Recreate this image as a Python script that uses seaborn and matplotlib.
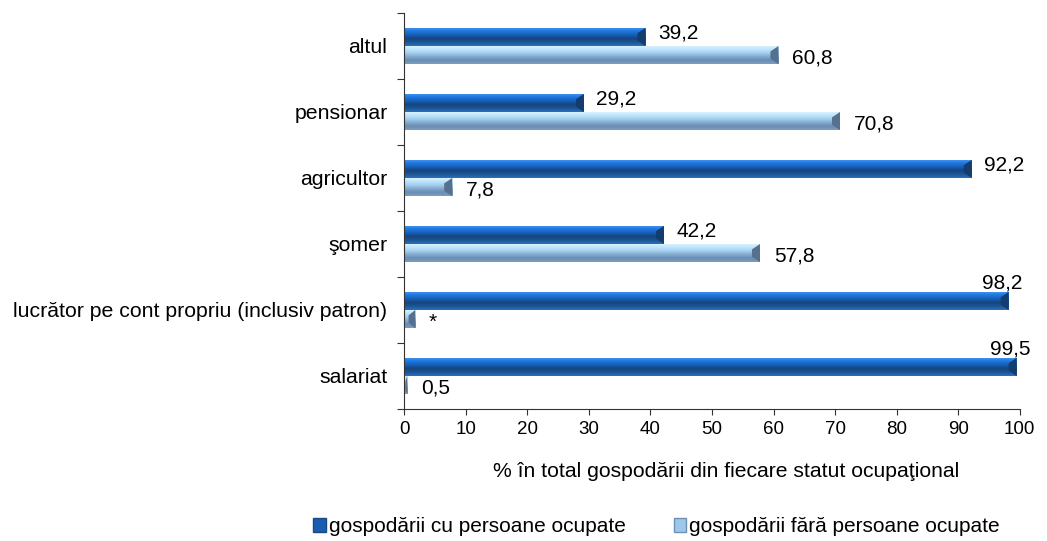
import seaborn as sns
import pandas as pd
import numpy as np
import matplotlib.pyplot as plt
from matplotlib.colors import to_rgb
from matplotlib.patches import Patch

sns.set_theme(style="white")
plt.rcParams["font.family"] = ["Liberation Sans", "DejaVu Sans"]

statut = ["altul", "pensionar", "agricultor", "şomer",
          "lucrător pe cont propriu (inclusiv patron)", "salariat"]
cu_ocupate = [39.2, 29.2, 92.2, 42.2, 98.2, 99.5]
fara_ocupate = [60.8, 70.8, 7.8, 57.8, 1.8, 0.5]
fara_etichete = ["60,8", "70,8", "7,8", "57,8", "*", "0,5"]
serii = ["gospodării cu persoane ocupate", "gospodării fără persoane ocupate"]

df = pd.DataFrame({
    "statut": statut * 2,
    "valoare": cu_ocupate + fara_ocupate,
    "grup": [serii[0]] * len(statut) + [serii[1]] * len(statut),
})

dark = "#1a66c2"
light = "#a9d6f5"
# top -> bottom shading to fake the excel bevel look
grad_dark = ["#4a9af0", "#1f78e0", "#1761bb", "#16457c", "#1c5596", "#2a6fbf"]
grad_light = ["#e2f5ff", "#c2e6fb", "#a5d2f1", "#86abd0", "#6a8db3", "#7c9dc2"]

fig, ax = plt.subplots(figsize=(10.47, 5.41), dpi=100)
fig.subplots_adjust(left=0.386, right=0.974, top=0.976, bottom=0.244)

sns.barplot(data=df, x="valoare", y="statut", hue="grup", orient="h",
            palette=[dark, light], width=0.55, gap=0, ax=ax, legend=False)


def shade(patch, stops, cap):
    x0, y0 = patch.get_x(), patch.get_y()
    w, h = patch.get_width(), patch.get_height()
    cols = np.array([to_rgb(c) for c in stops])
    t = np.linspace(0, 1, 64)
    pos = np.linspace(0, 1, len(stops))
    arr = np.stack([np.interp(t, pos, cols[:, k]) for k in range(3)], axis=1)
    arr = arr[:, None, :]
    im = ax.imshow(arr, extent=(x0, x0 + w, y0 + h, y0), origin="upper",
                   aspect="auto", zorder=patch.get_zorder() + 0.1,
                   interpolation="bilinear")
    im.set_clip_path(patch)
    # darker bevel at the end of the bar
    d = min(1.3, w * 0.6)
    x1 = x0 + w
    ax.fill([x1 - d, x1, x1, x1 - d],
            [y0 + h * 0.3, y0, y0 + h, y0 + h * 0.7],
            color=cap, zorder=patch.get_zorder() + 0.2, lw=0)


for patch in ax.containers[0]:
    shade(patch, grad_dark, "#123d6e")
for patch in ax.containers[1]:
    shade(patch, grad_light, "#56718f")

fs = 15
for patch, v in zip(ax.containers[0], cu_ocupate):
    yc = patch.get_y() + patch.get_height() / 2
    txt = f"{v:.1f}".replace(".", ",")
    if v > 95:
        ax.annotate(txt, (v, yc), xytext=(-5, 13), textcoords="offset points",
                    ha="center", va="center", fontsize=fs, color="black")
    else:
        ax.annotate(txt, (v, yc), xytext=(9, 3), textcoords="offset points",
                    ha="left", va="center", fontsize=fs, color="black")

for patch, v, lab in zip(ax.containers[1], fara_ocupate, fara_etichete):
    yc = patch.get_y() + patch.get_height() / 2
    ax.annotate(lab, (v, yc), xytext=(10, -2), textcoords="offset points",
                ha="left", va="center", fontsize=fs, color="black")

ax.set_xlim(0, 100)
ax.set_ylim(len(statut) - 0.5, -0.5)
ax.set_xticks(np.arange(0, 101, 10))
ax.set_yticks(range(len(statut)))
ax.set_yticklabels(statut)
ax.set_yticks(np.arange(-0.5, len(statut), 1), minor=True)
ax.tick_params(axis="y", which="major", length=0, pad=12, labelsize=15.3,
               labelcolor="black")
ax.tick_params(axis="y", which="minor", length=5, width=0.8, color="#333333",
               left=True, direction="out")
ax.tick_params(axis="x", length=4, width=0.8, color="#333333", bottom=True,
               direction="out", labelsize=13.5, pad=5, labelcolor="black")
ax.set_ylabel("")
ax.set_xlabel("% în total gospodării din fiecare statut ocupaţional",
              fontsize=15.2, color="black")
ax.xaxis.set_label_coords(0.523, -0.135)

for s in ["top", "right"]:
    ax.spines[s].set_visible(False)
for s in ["left", "bottom"]:
    ax.spines[s].set_color("#333333")
    ax.spines[s].set_linewidth(0.8)

handles = [Patch(facecolor="#1a5cb0", edgecolor="#1a4a85"),
           Patch(facecolor="#9ec8ea", edgecolor="#6f90b5")]
leg = fig.legend(handles, serii, loc="center", bbox_to_anchor=(0.627, 0.026),
                 ncol=2, frameon=False, prop={"size": 15},
                 handlelength=0.6, handleheight=0.6, handletextpad=0.15,
                 columnspacing=2.3)
for t in leg.get_texts():
    t.set_color("black")

plt.savefig("out.png", dpi=100)
